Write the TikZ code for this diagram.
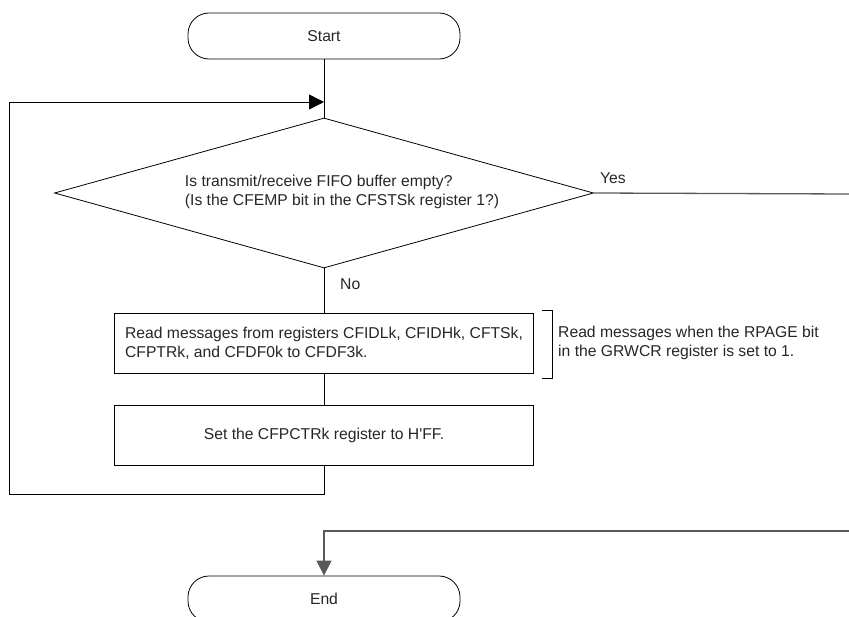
\documentclass[tikz,border=0pt]{standalone}
\usepackage{fontspec}
\setmainfont{Liberation Sans}
\usepackage{tikz}
\usetikzlibrary{arrows.meta, positioning, shapes.geometric}

\begin{document}
\begin{tikzpicture}[x=1pt, y=-1pt, >={Triangle[length=15pt,width=15pt]},
    every node/.style={font=\fontsize{15.7}{19}\selectfont, text=black!85},
    term/.style={draw, line width=0.8pt, rounded corners=21pt, minimum width=272pt, minimum height=46pt, inner sep=0pt},
    decision/.style={draw, diamond, line width=0.8pt, minimum width=539pt, minimum height=150pt, inner sep=0pt},
    proc/.style={draw, rectangle, line width=0.8pt, minimum width=419pt, minimum height=60pt, inner xsep=4pt},
    flow/.style={line width=0.8pt},
    feed/.style={line width=1.3pt, black!65}]
    \useasboundingbox (0,0) rectangle (849,617);
    \clip (0,0) rectangle (849,617);

    \node[term] (start) at (324,36) {Start};
    \node[decision] (test) at (324,193) {};
    \node[align=left, inner sep=0pt] (testtxt) at (342,192) {Is transmit/receive FIFO buffer empty?\\(Is the CFEMP bit in the CFSTSk register 1?)};
    \node[proc, align=left] (read) at (324,343) {Read messages from registers CFIDLk, CFIDHk, CFTSk,\\CFPTRk, and CFDF0k to CFDF3k.};
    \node[proc] (setff) at (324,435) {Set the CFPCTRk register to H\textquotesingle FF.};
    \node[term] (end) at (324,599) {End};

    \node[anchor=west, align=left, inner sep=0pt] (note) at (558,343) {Read messages when the RPAGE bit\\in the GRWCR register is set to 1.};
    \node[anchor=south west, inner sep=0pt] (yes) at (600,184) {Yes};
    \node[anchor=west, inner sep=0pt] (no) at (340,284) {No};

    \coordinate (loopin) at (324,102);
    \coordinate (loopbl) at (9,494);
    \coordinate (yesend) at (849,194);
    \coordinate (joinr) at (849,531);

    \draw[flow] (start) -- (test);
    \draw[flow, ->] (setff.south) |- (loopbl) |- (loopin);
    \draw[feed] (test.east) -- (yesend);
    \draw[flow] (test.south) -- (read);
    \draw[flow] (read) -- (setff);
    \draw[feed, ->] (joinr) -| (end.north);
    \draw[flow] ([xshift=8pt,yshift=2pt]read.north east) -- ++(10,0) |- ([xshift=8pt,yshift=-5pt]read.south east);
\end{tikzpicture}
\end{document}
